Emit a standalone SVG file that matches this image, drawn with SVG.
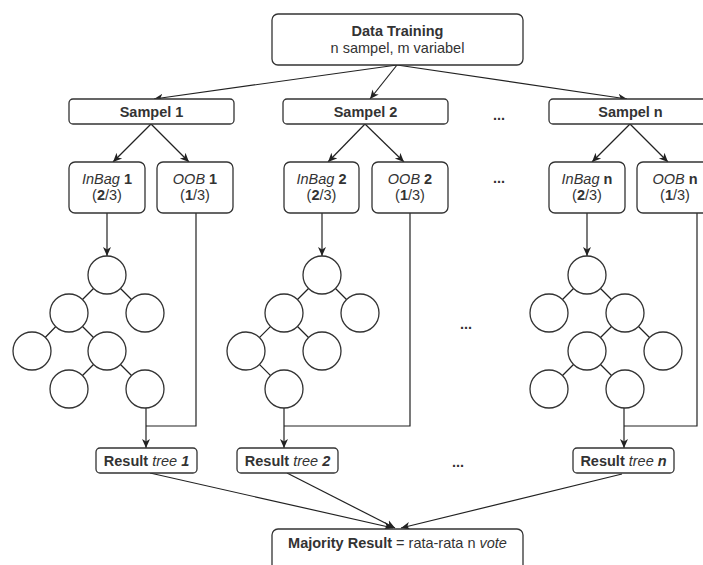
<svg xmlns="http://www.w3.org/2000/svg" width="703" height="565" viewBox="0 0 703 565">
<defs>
<marker id="arr" markerUnits="userSpaceOnUse" markerWidth="10" markerHeight="10" viewBox="0 0 10 10" refX="9" refY="5" orient="auto">
<path d="M0,1 L9,5 L0,9 L2.5,5 z" fill="#222"/>
</marker>
<style>
.box{fill:#fff;stroke:#333;stroke-width:1.3}
.c{fill:#fff;stroke:#333;stroke-width:1.3}
.ln{fill:none;stroke:#222;stroke-width:1.2}
.ar{fill:none;stroke:#222;stroke-width:1.2;marker-end:url(#arr)}
text{font-family:"Liberation Sans",Arial,Helvetica,sans-serif;font-size:14.5px;fill:#333;text-anchor:middle}
.b{font-weight:bold}
.i{font-style:italic}
</style>
</defs>

<g id="connectors">
<line class="ar" x1="397" y1="65" x2="154" y2="99"/>
<line class="ar" x1="397" y1="65" x2="370" y2="99"/>
<line class="ar" x1="397" y1="65" x2="627" y2="99"/>
<line class="ar" x1="151" y1="124" x2="113" y2="162"/>
<line class="ar" x1="151" y1="124" x2="189" y2="162"/>
<line class="ar" x1="365" y1="124" x2="328" y2="162"/>
<line class="ar" x1="365" y1="124" x2="404" y2="162"/>
<line class="ar" x1="630" y1="124" x2="592" y2="162"/>
<line class="ar" x1="630" y1="124" x2="668" y2="162"/>
<line class="ar" x1="107" y1="213" x2="107" y2="256"/>
<line class="ar" x1="322" y1="213" x2="322" y2="256"/>
<line class="ar" x1="587" y1="213" x2="587" y2="256"/>
<line class="ar" x1="146" y1="408" x2="146" y2="448"/>
<line class="ar" x1="284" y1="408" x2="284" y2="448"/>
<line class="ar" x1="624" y1="408" x2="624" y2="448"/>
<polyline class="ln" points="196,213 196,426 146,426"/>
<polyline class="ln" points="410,213 410,426 284,426"/>
<polyline class="ln" points="697,213 697,426 624,426"/>
<line class="ar" x1="150" y1="473" x2="393" y2="528"/>
<line class="ar" x1="287" y1="473" x2="395" y2="528"/>
<line class="ar" x1="622" y1="474" x2="401" y2="528"/>
<!-- tree edges -->
<g class="ln">
<line x1="107" y1="275" x2="69" y2="313"/><line x1="107" y1="275" x2="145" y2="313"/>
<line x1="69" y1="313" x2="32" y2="351"/><line x1="69" y1="313" x2="107" y2="351"/>
<line x1="107" y1="351" x2="69" y2="389"/><line x1="107" y1="351" x2="145" y2="389"/>
<line x1="322" y1="275" x2="284" y2="313"/><line x1="322" y1="275" x2="360" y2="313"/>
<line x1="284" y1="313" x2="246" y2="351"/><line x1="284" y1="313" x2="322" y2="351"/>
<line x1="246" y1="351" x2="284" y2="389"/>
<line x1="587" y1="275" x2="549" y2="313"/><line x1="587" y1="275" x2="625" y2="313"/>
<line x1="625" y1="313" x2="587" y2="351"/><line x1="625" y1="313" x2="663" y2="351"/>
<line x1="587" y1="351" x2="549" y2="389"/><line x1="587" y1="351" x2="625" y2="389"/>
</g>
</g>

<g id="data-training">
<rect class="box" x="272" y="14" width="251" height="51" rx="6"/>
<text x="397.5" y="35.5" class="b">Data Training</text>
<text x="397.5" y="53">n sampel, m variabel</text>
</g>

<g id="sampel-1"><rect class="box" x="69" y="99" width="165" height="25" rx="4"/><text x="151.5" y="116.5" class="b">Sampel 1</text></g>
<g id="sampel-2"><rect class="box" x="283" y="99" width="165" height="25" rx="4"/><text x="365.5" y="116.5" class="b">Sampel 2</text></g>
<g id="sampel-n"><rect class="box" x="549" y="99" width="163" height="25" rx="4"/><text x="630.5" y="116.5" class="b">Sampel n</text></g>

<g id="inbag-1"><rect class="box" x="69" y="162" width="76" height="51" rx="6"/>
<text x="107" y="184"><tspan class="i">InBag</tspan><tspan class="b"> 1</tspan></text>
<text x="107" y="200">(<tspan class="b">2</tspan>/3)</text></g>
<g id="oob-1"><rect class="box" x="157" y="162" width="76" height="51" rx="6"/>
<text x="195" y="184"><tspan class="i">OOB</tspan><tspan class="b"> 1</tspan></text>
<text x="195" y="200">(<tspan class="b">1</tspan>/3)</text></g>

<g id="inbag-2"><rect class="box" x="284" y="162" width="75" height="51" rx="6"/>
<text x="321.5" y="184"><tspan class="i">InBag</tspan><tspan class="b"> 2</tspan></text>
<text x="321.5" y="200">(<tspan class="b">2</tspan>/3)</text></g>
<g id="oob-2"><rect class="box" x="372" y="162" width="76" height="51" rx="6"/>
<text x="410" y="184"><tspan class="i">OOB</tspan><tspan class="b"> 2</tspan></text>
<text x="410" y="200">(<tspan class="b">1</tspan>/3)</text></g>

<g id="inbag-n"><rect class="box" x="549" y="162" width="76" height="51" rx="6"/>
<text x="587" y="184"><tspan class="i">InBag</tspan><tspan class="b"> n</tspan></text>
<text x="587" y="200">(<tspan class="b">2</tspan>/3)</text></g>
<g id="oob-n"><rect class="box" x="637" y="162" width="76" height="51" rx="6"/>
<text x="675" y="184"><tspan class="i">OOB</tspan><tspan class="b"> n</tspan></text>
<text x="675" y="200">(<tspan class="b">1</tspan>/3)</text></g>

<g id="tree-1">
<circle class="c" cx="107" cy="275" r="19"/>
<circle class="c" cx="69" cy="313" r="19"/><circle class="c" cx="145" cy="313" r="19"/>
<circle class="c" cx="32" cy="351" r="19"/><circle class="c" cx="107" cy="351" r="19"/>
<circle class="c" cx="69" cy="389" r="19"/><circle class="c" cx="145" cy="389" r="19"/>
</g>
<g id="tree-2">
<circle class="c" cx="322" cy="275" r="19"/>
<circle class="c" cx="284" cy="313" r="19"/><circle class="c" cx="360" cy="313" r="19"/>
<circle class="c" cx="246" cy="351" r="19"/><circle class="c" cx="322" cy="351" r="19"/>
<circle class="c" cx="284" cy="389" r="19"/>
</g>
<g id="tree-n">
<circle class="c" cx="587" cy="275" r="19"/>
<circle class="c" cx="549" cy="313" r="19"/><circle class="c" cx="625" cy="313" r="19"/>
<circle class="c" cx="587" cy="351" r="19"/><circle class="c" cx="663" cy="351" r="19"/>
<circle class="c" cx="549" cy="389" r="19"/><circle class="c" cx="625" cy="389" r="19"/>
</g>

<g id="result-1"><rect class="box" x="96" y="448" width="101" height="25" rx="4"/>
<text x="146.5" y="465.5"><tspan class="b">Result </tspan><tspan class="i">tree </tspan><tspan class="b i">1</tspan></text></g>
<g id="result-2"><rect class="box" x="237" y="448" width="101" height="25" rx="4"/>
<text x="287.5" y="465.5"><tspan class="b">Result </tspan><tspan class="i">tree </tspan><tspan class="b i">2</tspan></text></g>
<g id="result-n"><rect class="box" x="573" y="448" width="101" height="25" rx="4"/>
<text x="623.5" y="465.5"><tspan class="b">Result </tspan><tspan class="i">tree </tspan><tspan class="b i">n</tspan></text></g>

<g id="majority"><rect class="box" x="272" y="529" width="251" height="50" rx="6"/>
<text x="397.5" y="548"><tspan class="b">Majority Result</tspan> = rata-rata n <tspan class="i">vote</tspan></text></g>

<g id="dots" class="b">
<text x="499" y="120" class="b">...</text>
<text x="499" y="183" class="b">...</text>
<text x="466" y="329" class="b">...</text>
<text x="458" y="467" class="b">...</text>
</g>
</svg>
